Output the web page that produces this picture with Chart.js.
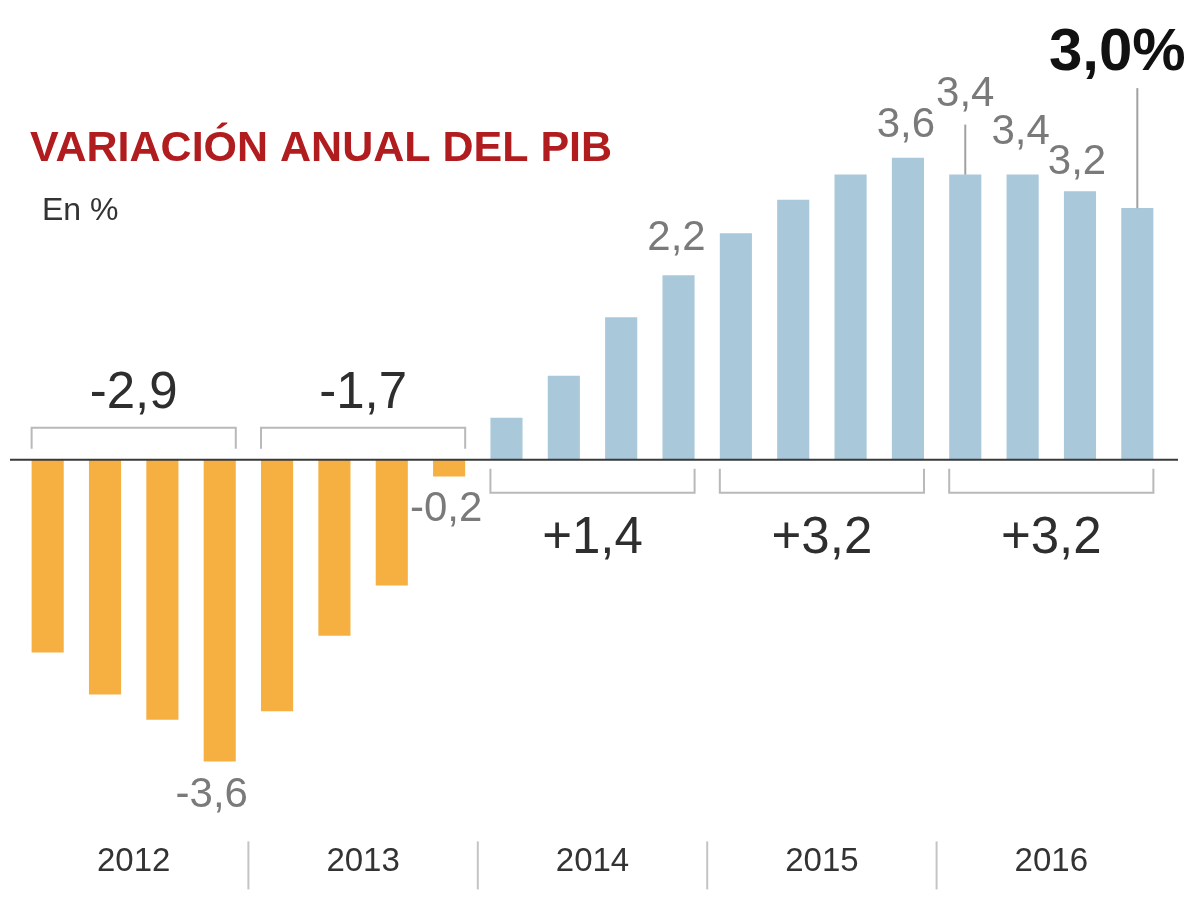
<!DOCTYPE html>
<html>
<head>
<meta charset="utf-8">
<script src="https://cdn.jsdelivr.net/npm/chart.js@4/dist/chart.umd.min.js"></script>
<style>
  html, body { margin: 0; padding: 0; background: #ffffff; }
  #wrap { width: 1200px; height: 900px; }
</style>
</head>
<body>
<div id="wrap"><canvas id="c" width="1200" height="900"></canvas></div>
<script>
// ---- data ----
const quarters = [
  'I-2012','II-2012','III-2012','IV-2012',
  'I-2013','II-2013','III-2013','IV-2013',
  'I-2014','II-2014','III-2014','IV-2014',
  'I-2015','II-2015','III-2015','IV-2015',
  'I-2016','II-2016','III-2016','IV-2016'
];
const years = ['2012', '2013', '2014', '2015', '2016'];
const gdpQuarterly = [
  -2.3, -2.8, -3.1, -3.6,
  -3.0, -2.1, -1.5, -0.2,
   0.5,  1.0,  1.7,  2.2,
   2.7,  3.1,  3.4,  3.6,
   3.4,  3.4,  3.2,  3.0
];
const gdpAnnual = [-2.9, -1.7, 1.4, 3.2, 3.2];
const labeledQuarters = [3, 7, 11, 15, 16, 17, 18, 19];
const highlightedQuarter = 19;
const titleText = 'VARIACIÓN ANUAL DEL PIB';
const subtitleText = 'En %';

// ---- styles / positions (kept apart from data) ----
const FONT = '"Liberation Sans", Arial, Helvetica, sans-serif';
const ORANGE = '#f6b042';
const BLUE = '#a9c8da';
const labelOffsets = { 3: [-8, 34], 7: [-3, 33], 11: [-2, -37], 15: [-2, -32], 16: [0, -80], 17: [-2, -42], 18: [-3, -29], 19: [-20, -155] };
const leaderSpans = { 16: 50, 19: 120 };

function fmt(v) { return v.toFixed(1).replace('.', ','); }

const annotations = {
  id: 'annotations',
  afterDatasetsDraw(chart) {
    const ctx = chart.ctx;
    const y = chart.scales.y;
    const x2 = chart.scales.x2;
    const area = chart.chartArea;
    const meta = chart.getDatasetMeta(0);
    const zero = y.getPixelForValue(0);
    ctx.save();

    // zero line
    ctx.strokeStyle = '#3a3a3a';
    ctx.lineWidth = 2;
    ctx.beginPath();
    ctx.moveTo(area.left - 9, zero);
    ctx.lineTo(area.right + 12, zero);
    ctx.stroke();

    // yearly brackets and annual values
    gdpAnnual.forEach((v, k) => {
      const first = meta.data[k * 4], last = meta.data[k * 4 + 3];
      const x0 = first.x - first.width / 2;
      const x1 = last.x + last.width / 2;
      const neg = v < 0;
      const yh = neg ? zero - 32 : zero + 33;
      const ye = neg ? zero - 11 : zero + 9;
      ctx.strokeStyle = '#b9b9b9';
      ctx.lineWidth = 2;
      ctx.beginPath();
      ctx.moveTo(x0, ye); ctx.lineTo(x0, yh); ctx.lineTo(x1, yh); ctx.lineTo(x1, ye);
      ctx.stroke();
      ctx.fillStyle = '#2e2e2e';
      ctx.font = '51px ' + FONT;
      ctx.textAlign = 'center';
      ctx.textBaseline = 'middle';
      const txt = (v > 0 ? '+' : '') + fmt(v);
      ctx.fillText(txt, (x0 + x1) / 2, neg ? zero - 66 : zero + 79);
    });

    // quarterly value labels
    labeledQuarters.forEach(i => {
      const bar = meta.data[i];
      const v = gdpQuarterly[i];
      const off = labelOffsets[i];
      const end = y.getPixelForValue(v);
      if (leaderSpans[i]) {
        ctx.strokeStyle = '#a0a0a0';
        ctx.lineWidth = 2;
        ctx.beginPath();
        ctx.moveTo(bar.x, end - leaderSpans[i]);
        ctx.lineTo(bar.x, end);
        ctx.stroke();
      }
      ctx.textAlign = 'center';
      ctx.textBaseline = 'middle';
      if (i === highlightedQuarter) {
        ctx.fillStyle = '#111111';
        ctx.font = 'bold 60px ' + FONT;
        ctx.fillText(fmt(v) + '%', bar.x + off[0], end + off[1]);
      } else {
        ctx.fillStyle = '#7a7a7a';
        ctx.font = '42px ' + FONT;
        ctx.fillText(fmt(v), bar.x + off[0], end + off[1]);
      }
    });

    // year separators
    ctx.strokeStyle = '#c4c4c4';
    ctx.lineWidth = 2;
    for (let j = 0; j < years.length - 1; j++) {
      const xs = (x2.getPixelForValue(j) + x2.getPixelForValue(j + 1)) / 2;
      ctx.beginPath();
      ctx.moveTo(xs, area.bottom + 6);
      ctx.lineTo(xs, area.bottom + 54);
      ctx.stroke();
    }

    // title and subtitle
    ctx.textAlign = 'left';
    ctx.textBaseline = 'middle';
    ctx.fillStyle = '#b11c1f';
    ctx.font = 'bold 43px ' + FONT;
    ctx.fillText(titleText, 30, 149);
    ctx.fillStyle = '#333333';
    ctx.font = '32px ' + FONT;
    ctx.fillText(subtitleText, 42, 211);
    ctx.restore();
  }
};

new Chart(document.getElementById('c'), {
  type: 'bar',
  data: {
    labels: quarters,
    datasets: [{
      data: gdpQuarterly,
      backgroundColor: c => (c.raw < 0 ? ORANGE : BLUE),
      borderWidth: 0,
      barPercentage: 0.56,
      categoryPercentage: 1
    }]
  },
  options: {
    responsive: false,
    devicePixelRatio: 1,
    animation: false,
    layout: { padding: { left: 19, right: 34, top: 84, bottom: 11 } },
    plugins: { legend: { display: false }, tooltip: { enabled: false }, title: { display: false } },
    scales: {
      x: { display: false, offset: true },
      x2: {
        type: 'category',
        labels: years,
        position: 'bottom',
        offset: true,
        grid: { display: false, drawTicks: false },
        border: { display: false },
        ticks: { font: { size: 33, family: FONT }, color: '#333333', padding: 7, maxRotation: 0, autoSkip: false }
      },
      y: { display: false, min: -4.48, max: 4.48 }
    }
  },
  plugins: [annotations]
});
</script>
</body>
</html>
